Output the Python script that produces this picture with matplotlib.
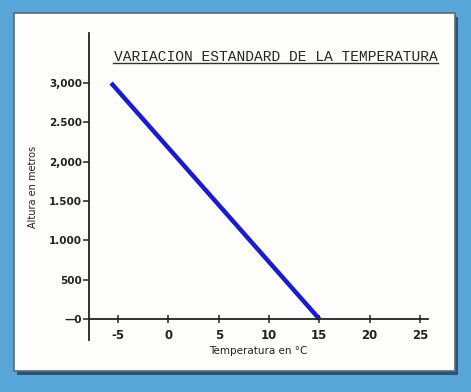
import matplotlib
matplotlib.use("Agg")
import matplotlib.pyplot as plt
from matplotlib.patches import Rectangle

# data
temp = [-5.7, 15]
altura = [3000, 0]
xticks = [-5, 0, 5, 10, 15, 20, 25]
yticks = [0, 500, 1000, 1500, 2000, 2500, 3000]
ylabels = ["\u20140", "500", "1.000", "1.500", "2,000", "2.500", "3,000"]
titulo = "VARIACION ESTANDARD DE LA TEMPERATURA"

W, H = 471, 392
fig = plt.figure(figsize=(W / 100, H / 100), dpi=100)
fig.patch.set_facecolor("#58a5d8")

# card with shadow
fig.patches.append(Rectangle((17 / W, 1 - 375 / H), 441 / W, 358 / H,
                             transform=fig.transFigure, facecolor="#1f3f5c",
                             edgecolor="none", alpha=0.8, zorder=0))
fig.patches.append(Rectangle((14 / W, 1 - 371 / H), 441 / W, 358 / H,
                             transform=fig.transFigure, facecolor="#fdfdfb",
                             edgecolor="#5a6a78", linewidth=1.2, zorder=1))

ax = fig.add_axes([89 / W, 1 - 340 / H, 339 / W, 307 / H])
ax.patch.set_visible(False)
ax.set_zorder(2)

ax.plot(temp, altura, color="#1a1ad0", linewidth=3.2, solid_capstyle="butt")

ax.set_xlim(-7.9, 25.8)
ax.set_ylim(-267, 3636)
ax.spines["top"].set_visible(False)
ax.spines["right"].set_visible(False)
ax.spines["bottom"].set_position(("data", 0))
for s in ("left", "bottom"):
    ax.spines[s].set_color("#222222")
    ax.spines[s].set_linewidth(1.3)

ax.set_xticks(xticks)
ax.set_xticklabels([str(v) for v in xticks])
ax.set_yticks(yticks)
ax.set_yticklabels(ylabels)
ax.tick_params(axis="x", direction="inout", length=6, width=1.1, pad=4,
               labelsize=8.5, colors="#222222")
ax.tick_params(axis="y", direction="out", length=4, width=1.1, pad=1,
               labelsize=7.5, colors="#222222")
for lab in ax.get_yticklabels() + ax.get_xticklabels():
    lab.set_fontweight("bold")

ax.set_xlabel("Temperatura en \u00b0C", fontsize=7.5, color="#222222", labelpad=3)
ax.set_ylabel("Altura en metros", fontsize=7, color="#222222", labelpad=8)

fig.text(275.5 / W, 1 - 57 / H, titulo, family="Liberation Mono", fontsize=10.5,
         color="#262626", ha="center", va="center", zorder=3)
fig.add_artist(plt.Line2D([113 / W, 438 / W], [1 - 63 / H, 1 - 63 / H],
                          transform=fig.transFigure, color="#333333",
                          linewidth=1, zorder=3))

fig.savefig("out.png", dpi=100, facecolor=fig.get_facecolor())
